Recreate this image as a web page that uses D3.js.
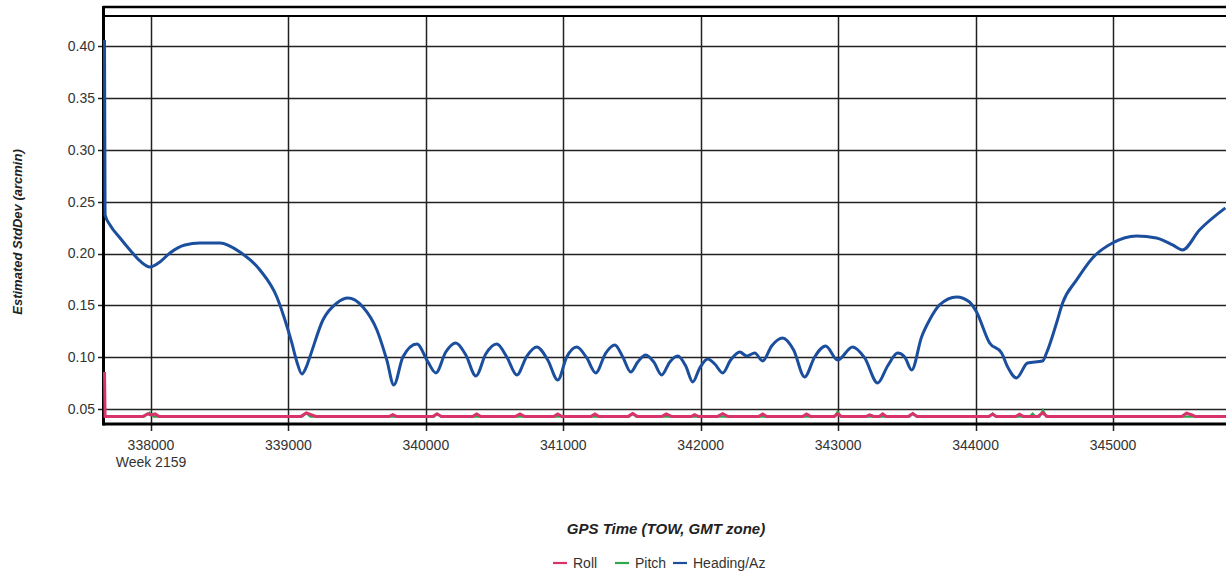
<!DOCTYPE html>
<html>
<head>
<meta charset="utf-8">
<script src="https://cdn.jsdelivr.net/npm/d3@7"></script>
<style>
  html, body { margin: 0; padding: 0; background: #fff; }
  svg { display: block; font-family: "Liberation Sans", Arial, sans-serif; }
</style>
</head>
<body>
<svg id="chart" width="1226" height="573"></svg>
<script>
// ---------------- DATA ----------------
const xTicks = [338000, 339000, 340000, 341000, 342000, 343000, 344000, 345000];
const xTickLabels = ["338000", "339000", "340000", "341000", "342000", "343000", "344000", "345000"];
const weekLabel = "Week 2159";
const yTicks = [0.05, 0.10, 0.15, 0.20, 0.25, 0.30, 0.35, 0.40];
const yTickLabels = ["0.05", "0.10", "0.15", "0.20", "0.25", "0.30", "0.35", "0.40"];
const seriesNames = ["Roll", "Pitch", "Heading/Az"];
const xTitle = "GPS Time (TOW, GMT zone)";
const yTitle = "Estimated StdDev (arcmin)";

// Heading/Az : [TOW, arcmin]
const headingData = [
  [337662,0.4058],[337666,0.2372],[337702,0.2276],[337775,0.215],[337847,0.2035],[337920,0.1929],
  [337993,0.1871],[338065,0.1919],[338138,0.2006],[338247,0.2083],[338356,0.2102],[338502,0.2102],
  [338647,0.2015],[338793,0.1842],[338916,0.1582],[338975,0.136],[339025,0.1139],[339062,0.0956],
  [339098,0.084],[339127,0.0898],[339156,0.1004],[339251,0.136],[339353,0.1524],[339433,0.1572],
  [339542,0.1486],[339644,0.1264],[339716,0.0975],[339767,0.0734],[339833,0.1004],[339935,0.1129],
  [340015,0.0956],[340073,0.085],[340145,0.1052],[340218,0.1139],[340291,0.1023],[340364,0.0821],
  [340436,0.1033],[340516,0.1129],[340589,0.1004],[340662,0.083],[340735,0.1013],[340807,0.110],
  [340887,0.0975],[340960,0.0782],[341025,0.1004],[341098,0.110],[341171,0.0994],[341236,0.085],
  [341309,0.1042],[341375,0.1119],[341433,0.1004],[341491,0.0859],[341542,0.0956],[341600,0.1023],
  [341658,0.0956],[341716,0.083],[341775,0.0956],[341833,0.1013],[341891,0.0917],[341942,0.0763],
  [341993,0.0898],[342051,0.0985],[342102,0.0936],[342160,0.085],[342218,0.0975],[342284,0.1052],
  [342335,0.1013],[342393,0.1042],[342451,0.0965],[342516,0.111],[342596,0.1187],[342676,0.1071],
  [342756,0.0811],[342829,0.1004],[342909,0.111],[342996,0.0975],[343105,0.110],[343193,0.0994],
  [343287,0.0753],[343360,0.0917],[343433,0.1042],[343484,0.1004],[343535,0.0879],[343607,0.1197],
  [343665,0.136],[343738,0.1505],[343862,0.1582],[343956,0.1534],[344007,0.1437],[344102,0.1139],
  [344189,0.1042],[344233,0.0908],[344298,0.0802],[344378,0.0946],[344487,0.0965],[344516,0.1042],
  [344589,0.1331],[344633,0.1524],[344735,0.1746],[344851,0.1958],[344996,0.2102],[345171,0.217],
  [345316,0.215],[345433,0.2083],[345505,0.2035],[345629,0.2227],[345818,0.244]
];

// Roll : [TOW, arcmin]
const rollData = [
  [337662,0.086],[337666,0.043],[337940,0.043],[337975,0.0455],[338000,0.0445],[338030,0.0455],[338060,0.043],
  [339090,0.043],[339130,0.0465],[339170,0.0445],[339200,0.043],[339730,0.043],[339760,0.0448],[339790,0.043],
  [340050,0.043],[340080,0.0455],[340115,0.043],[340340,0.043],[340370,0.0455],[340400,0.043],
  [340650,0.043],[340685,0.0455],[340720,0.043],[340930,0.043],[340960,0.0455],[340990,0.043],
  [341200,0.043],[341230,0.0455],[341260,0.043],[341470,0.043],[341505,0.0458],[341540,0.043],
  [341715,0.043],[341750,0.0455],[341790,0.043],[341930,0.043],[341956,0.0448],[341985,0.043],
  [342120,0.043],[342160,0.0458],[342200,0.043],[342420,0.043],[342451,0.0455],[342480,0.043],
  [342740,0.043],[342771,0.0455],[342800,0.043],[342970,0.043],[342996,0.0455],[343025,0.043],
  [343200,0.043],[343229,0.0445],[343260,0.043],[343300,0.043],[343324,0.0455],[343350,0.043],
  [343510,0.043],[343542,0.0458],[343575,0.043],[344095,0.043],[344124,0.0452],[344150,0.043],
  [344290,0.043],[344320,0.0452],[344350,0.043],[344455,0.043],[344487,0.0465],[344520,0.043],
  [345500,0.043],[345535,0.0462],[345575,0.0445],[345600,0.043],[345822,0.043]
];

// Pitch : [TOW, arcmin]
const pitchData = [
  [337662,0.043],[337950,0.043],[337990,0.0468],[338020,0.043],[339100,0.043],[339130,0.0462],[339160,0.043],
  [340060,0.043],[340085,0.0458],[340110,0.043],[341480,0.043],[341505,0.046],[341530,0.043],
  [342975,0.043],[342996,0.0478],[343020,0.043],[343520,0.043],[343545,0.0462],[343570,0.043],
  [344100,0.043],[344124,0.046],[344150,0.043],[344395,0.043],[344415,0.0458],[344435,0.043],
  [344465,0.043],[344490,0.0492],[344515,0.043],[345822,0.043]
];

const seriesColors = ["#d8336a", "#2fa84a", "#1b4f9e"];

// ---------------- CHART ----------------
const svg = d3.select("#chart");
const plotLeft = 103, plotRight = 1226, plotTop = 16, plotBottom = 424, frameTop = 6;

const x = d3.scaleLinear().domain([337651, 345822]).range([plotLeft, plotRight]);
const y = d3.scaleLinear().domain([0.0358, 0.4289]).range([plotBottom, plotTop]);

svg.append("defs").append("clipPath").attr("id", "clip")
  .append("rect").attr("x", plotLeft).attr("y", frameTop).attr("width", plotRight - plotLeft).attr("height", plotBottom - frameTop);

// grid lines
const grid = svg.append("g");
grid.selectAll("line.h").data(yTicks).enter().append("line")
  .attr("x1", plotLeft - 5).attr("x2", plotRight)
  .attr("y1", d => Math.round(y(d)) + 0.5).attr("y2", d => Math.round(y(d)) + 0.5)
  .attr("stroke", "#222").attr("stroke-width", 1.5);
grid.selectAll("line.v").data(xTicks).enter().append("line")
  .attr("y1", plotTop).attr("y2", plotBottom + 7)
  .attr("x1", d => Math.round(x(d)) + 0.5).attr("x2", d => Math.round(x(d)) + 0.5)
  .attr("stroke", "#222").attr("stroke-width", 1.5);

// frame
const frame = svg.append("g").attr("stroke", "#000").attr("fill", "none");
frame.append("line").attr("x1", plotLeft).attr("x2", plotRight).attr("y1", frameTop + 1).attr("y2", frameTop + 1).attr("stroke-width", 2.5);
frame.append("line").attr("x1", plotLeft).attr("x2", plotRight).attr("y1", plotTop).attr("y2", plotTop).attr("stroke-width", 2);
frame.append("line").attr("x1", plotLeft + 0.5).attr("x2", plotLeft + 0.5).attr("y1", frameTop).attr("y2", plotBottom + 1.5).attr("stroke-width", 3);
frame.append("line").attr("x1", plotLeft).attr("x2", plotRight).attr("y1", plotBottom).attr("y2", plotBottom).attr("stroke-width", 3);

// y tick labels
svg.append("g").selectAll("text").data(yTicks).enter().append("text")
  .attr("x", plotLeft - 8).attr("y", d => y(d)).attr("dy", "0.35em")
  .attr("text-anchor", "end").attr("font-size", 14).attr("fill", "#333")
  .text((d, i) => yTickLabels[i]);

// x tick labels
svg.append("g").selectAll("text").data(xTicks).enter().append("text")
  .attr("x", d => x(d)).attr("y", 450)
  .attr("text-anchor", "middle").attr("font-size", 14).attr("fill", "#333")
  .text((d, i) => xTickLabels[i]);
svg.append("text").attr("x", x(xTicks[0])).attr("y", 467)
  .attr("text-anchor", "middle").attr("font-size", 14).attr("fill", "#333").text(weekLabel);

// series
const mk = (curve) => d3.line().x(d => x(d[0])).y(d => y(d[1])).curve(curve);
const series = svg.append("g").attr("clip-path", "url(#clip)");
series.append("path").attr("d", mk(d3.curveLinear)(pitchData))
  .attr("fill", "none").attr("stroke", seriesColors[1]).attr("stroke-width", 2.2);
series.append("path").attr("d", mk(d3.curveLinear)(rollData))
  .attr("fill", "none").attr("stroke", seriesColors[0]).attr("stroke-width", 3);
series.append("path").attr("d", mk(d3.curveMonotoneX)(headingData))
  .attr("fill", "none").attr("stroke", seriesColors[2]).attr("stroke-width", 3).attr("stroke-linejoin", "round");

// axis titles
svg.append("text").attr("x", 666).attr("y", 534).attr("text-anchor", "middle")
  .attr("font-size", 15).attr("font-weight", "bold").attr("font-style", "italic").attr("fill", "#222")
  .text(xTitle);
svg.append("text").attr("transform", "translate(22,232) rotate(-90)").attr("text-anchor", "middle")
  .attr("font-size", 13).attr("font-weight", "bold").attr("font-style", "italic").attr("fill", "#222")
  .text(yTitle);

// legend
const legendX = [553, 615, 673];
const lg = svg.append("g");
seriesNames.forEach((name, i) => {
  lg.append("line").attr("x1", legendX[i]).attr("x2", legendX[i] + 14).attr("y1", 563).attr("y2", 563)
    .attr("stroke", seriesColors[i]).attr("stroke-width", 2.2);
  lg.append("text").attr("x", legendX[i] + 20).attr("y", 563).attr("dy", "0.35em")
    .attr("font-size", 14).attr("fill", "#333").text(name);
});
</script>
</body>
</html>
